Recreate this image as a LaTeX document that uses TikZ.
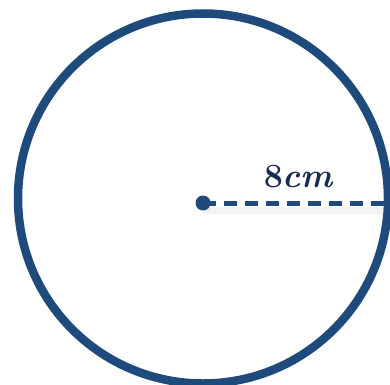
\documentclass[tikz,border=0pt]{standalone}
\usetikzlibrary{calc}
\usepackage{xcolor}
\definecolor{rimColor}{RGB}{31,74,124}
\definecolor{labelColor}{RGB}{24,44,80}
\newcommand{\radfont}{\fontsize{34}{40}\selectfont\bfseries}

\begin{document}
\begin{tikzpicture}[x=1pt, y=-1pt,
        rimline/.style={draw=rimColor, line width=8.5pt},
        ctrdot/.style={circle, fill=rimColor, inner sep=0pt, minimum size=15pt},
        radline/.style={draw=rimColor, line width=5pt, dash pattern=on 13pt off 8pt},
        shadowline/.style={draw=black!20, line width=7pt, opacity=0.25}
      ]
      \useasboundingbox (0,0) rectangle (390,384);
      \draw[rimline] (203,198.5) circle (185);
      % shadow under the radius
      \coordinate (shA) at (203,210);
      \coordinate (shB) at (384,210);
      \draw[shadowline] (shA) -- (shB);
      \node[ctrdot] (ctr) at (203,203) {};
      \coordinate (rimpt) at (390,203);
      \draw[radline] (ctr.center) -- (rimpt);
      \node[font=\radfont, text=labelColor] (lbl) at (299,177) {8\textit{cm}};
    \end{tikzpicture}
\end{document}
